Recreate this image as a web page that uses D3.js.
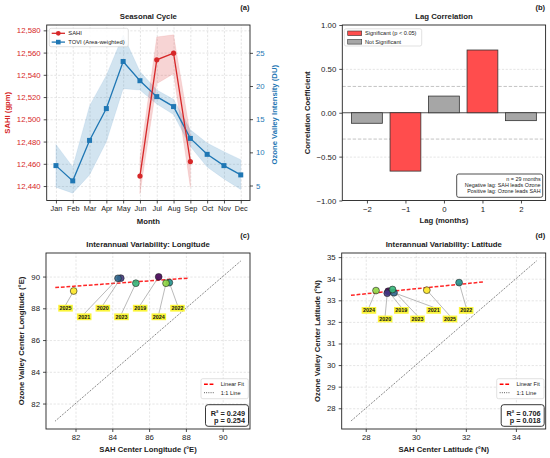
<!DOCTYPE html>
<html>
<head>
<meta charset="utf-8">
<script src="https://cdn.jsdelivr.net/npm/d3@7"></script>
<style>
body { margin: 0; background: #fff; }
svg { font-family: "Liberation Sans", Arial, sans-serif; }
</style>
</head>
<body>
<div id="chart"></div>
<script>
'use strict';

// ---- (a) seasonal cycle ----
const months = ["Jan","Feb","Mar","Apr","May","Jun","Jul","Aug","Sep","Oct","Nov","Dec"];
const sahiMonths = ["Jun","Jul","Aug","Sep"];
const sahiMean = [12449, 12553.5, 12559.5, 12462];
const sahiLow  = [12433, 12532, 12541, 12439];
const sahiHigh = [12465, 12574, 12576, 12486];
const toviMean = [8.0, 5.7, 11.8, 16.6, 23.7, 20.8, 18.4, 16.9, 12.1, 9.7, 8.0, 6.6];
const toviLow  = [4.75, 3.85, 6.6, 11.6, 19.6, 19.4, 17.3, 15.7, 10.9, 7.8, 6.0, 4.4];
const toviHigh = [11.2, 7.8, 17.0, 21.6, 27.7, 22.2, 19.4, 18.0, 13.4, 11.4, 10.1, 8.9];
const sahiTicks = [12440, 12460, 12480, 12500, 12520, 12540, 12560, 12580];
const toviTicks = [5, 10, 15, 20, 25];

// ---- (b) lag correlation ----
const lags = [-2, -1, 0, 1, 2];
const lagCorr = [-0.12, -0.665, 0.19, 0.715, -0.09];
const lagSignificant = [false, true, false, true, false];
const corrTicks = [-1, -0.5, 0, 0.5, 1];
const lagNote = ["n = 29 months", "Negative lag: SAH leads Ozone", "Positive lag: Ozone leads SAH"];

// ---- (c), (d) interannual ----
const years  = [2019, 2020, 2021, 2022, 2023, 2024, 2025];
const sahLon = [86.52, 84.46, 84.31, 87.1, 85.28, 86.92, 81.9];
const ovLon  = [89.98, 89.9, 89.89, 89.62, 89.58, 89.58, 89.09];
const sahLat = [28.9, 28.86, 29.13, 31.73, 29.07, 28.41, 30.44];
const ovLat  = [33.42, 33.33, 33.35, 33.82, 33.5, 33.45, 33.47];
const lonTicks = [82, 84, 86, 88, 90];
const latTicksX = [28, 30, 32, 34];
const latTicksY = [28, 29, 30, 31, 32, 33, 34, 35];
const lonStats = ["R\u00b2 = 0.249", "p = 0.254"];
const latStats = ["R\u00b2 = 0.706", "p = 0.018"];

const RED = "#d62728", BLUE = "#1f77b4", INK = "#222";

const svg = d3.select("#chart").append("svg")
	.attr("width", 550)
	.attr("height", 458);

// axes frames in px
const boxA = {x0: 46.7, x1: 250, y0: 25, y1: 200.5};
const boxB = {x0: 342.3, x1: 545.6, y0: 25, y1: 200.5};
const boxC = {x0: 46, x1: 250, y0: 253, y1: 429};
const boxD = {x0: 341.7, x1: 545.7, y0: 253, y1: 429};

function styleAxis(g, color, size) {
	g.select(".domain").remove();
	g.selectAll(".tick line").attr("stroke", INK).attr("stroke-width", 0.8);
	g.selectAll(".tick text")
		.attr("fill", color || INK)
		.style("font-size", (size || 7.8) + "px")
		.style("font-family", "'Liberation Sans', Arial, sans-serif");
}

function gridX(scale, vals, box) {
	const g = svg.append("g")
		.attr("transform", `translate(0,${box.y1})`)
		.call(d3.axisBottom(scale).tickValues(vals).tickSize(-(box.y1 - box.y0)).tickFormat(""));
	g.select(".domain").remove();
	g.selectAll("line").attr("stroke", "#d4d4d4").attr("stroke-width", 0.6).attr("stroke-dasharray", "2.2,1.6");
}

function gridY(scale, vals, box) {
	const g = svg.append("g")
		.attr("transform", `translate(${box.x0},0)`)
		.call(d3.axisLeft(scale).tickValues(vals).tickSize(-(box.x1 - box.x0)).tickFormat(""));
	g.select(".domain").remove();
	g.selectAll("line").attr("stroke", "#d4d4d4").attr("stroke-width", 0.6).attr("stroke-dasharray", "2.2,1.6");
}

function frame(box) {
	svg.append("rect")
		.attr("x", box.x0).attr("y", box.y0)
		.attr("width", box.x1 - box.x0).attr("height", box.y1 - box.y0)
		.attr("fill", "none").attr("stroke", INK).attr("stroke-width", 0.9);
}

function label(x, y, txt, opts) {
	opts = opts || {};
	const t = svg.append("text")
		.attr("x", x).attr("y", y)
		.attr("text-anchor", opts.anchor || "middle")
		.attr("dominant-baseline", "central")
		.attr("fill", opts.color || INK)
		.style("font-size", (opts.size || 7.7) + "px")
		.style("font-weight", opts.bold === false ? "normal" : "bold")
		.text(txt);
	if (opts.rotate) t.attr("transform", `rotate(-90,${x},${y})`);
	return t;
}

function titles(box, title, letter, xlab, ylab, ylabX, xlabY) {
	const cx = (box.x0 + box.x1) / 2;
	label(cx, box.y0 - 8.5, title, {size: 7.8});
	label(box.x1 - 0.5, box.y0 - 17.5, letter, {anchor: "end", size: 7.6});
	label(cx, xlabY, xlab);
	label(ylabX, (box.y0 + box.y1) / 2, ylab, {rotate: true});
}

// ================= (a) =================
{
	const box = boxA;
	const x = d3.scaleLinear().domain([-0.55, 11.55]).range([box.x0, box.x1]);
	const yL = d3.scaleLinear().domain([12427, 12584.8]).range([box.y1, box.y0]);
	const yR = d3.scaleLinear().domain([2.74, 29.2]).range([box.y1, box.y0]);
	const mi = m => months.indexOf(m);

	gridX(x, d3.range(12), box);
	gridY(yL, sahiTicks, box);

	const tovi = months.map((m, i) => ({m, v: toviMean[i], lo: toviLow[i], hi: toviHigh[i]}));
	const sahi = sahiMonths.map((m, i) => ({m, v: sahiMean[i], lo: sahiLow[i], hi: sahiHigh[i]}));

	// bands
	svg.append("path")
		.datum(tovi)
		.attr("d", d3.area().x(d => x(mi(d.m))).y0(d => yR(d.lo)).y1(d => yR(d.hi)))
		.attr("fill", BLUE).attr("fill-opacity", 0.2)
		.attr("stroke", BLUE).attr("stroke-opacity", 0.15).attr("stroke-width", 0.6);
	svg.append("path")
		.datum(sahi)
		.attr("d", d3.area().x(d => x(mi(d.m))).y0(d => yL(d.lo)).y1(d => yL(d.hi)))
		.attr("fill", RED).attr("fill-opacity", 0.2)
		.attr("stroke", RED).attr("stroke-opacity", 0.15).attr("stroke-width", 0.6);

	// tovi line + squares
	svg.append("path")
		.datum(tovi)
		.attr("d", d3.line().x(d => x(mi(d.m))).y(d => yR(d.v)))
		.attr("fill", "none").attr("stroke", BLUE).attr("stroke-width", 1.3);
	svg.append("g").selectAll("rect")
		.data(tovi).join("rect")
		.attr("x", d => x(mi(d.m)) - 2.5).attr("y", d => yR(d.v) - 2.5)
		.attr("width", 5).attr("height", 5)
		.attr("fill", BLUE);

	// sahi line + circles
	svg.append("path")
		.datum(sahi)
		.attr("d", d3.line().x(d => x(mi(d.m))).y(d => yL(d.v)))
		.attr("fill", "none").attr("stroke", RED).attr("stroke-width", 1.3);
	svg.append("g").selectAll("circle")
		.data(sahi).join("circle")
		.attr("cx", d => x(mi(d.m))).attr("cy", d => yL(d.v))
		.attr("r", 2.6)
		.attr("fill", RED);

	frame(box);

	const ax = svg.append("g")
		.attr("transform", `translate(0,${box.y1})`)
		.call(d3.axisBottom(x).tickValues(d3.range(12)).tickFormat(i => months[i]).tickSize(3).tickPadding(2.5));
	styleAxis(ax, INK, 7.3);
	const al = svg.append("g")
		.attr("transform", `translate(${box.x0},0)`)
		.call(d3.axisLeft(yL).tickValues(sahiTicks).tickFormat(d3.format(",")).tickSize(3).tickPadding(3));
	styleAxis(al, RED, 7.8);
	const ar = svg.append("g")
		.attr("transform", `translate(${box.x1},0)`)
		.call(d3.axisRight(yR).tickValues(toviTicks).tickSize(3).tickPadding(3));
	styleAxis(ar, BLUE, 7.8);

	titles(box, "Seasonal Cycle", "(a)", "Month", "SAHI (gpm)", 7.3, 221.7);
	svg.select("text:last-of-type");
	label(274, (box.y0 + box.y1) / 2 + 2, "Ozone Valley Intensity (DU)", {rotate: true, color: BLUE});
	// recolor left label
	svg.selectAll("text").filter(function() { return this.textContent === "SAHI (gpm)"; }).attr("fill", RED);

	// legend
	const lg = svg.append("g");
	lg.append("rect")
		.attr("x", 49.3).attr("y", 28.3).attr("width", 79).attr("height", 18.4)
		.attr("rx", 1.8)
		.attr("fill", "#fff").attr("fill-opacity", 0.85)
		.attr("stroke", "#ccc").attr("stroke-width", 0.6);
	const rows = [{t: "SAHI", c: RED, y: 33.3, shape: "circle"}, {t: "TOVI (Area-weighted)", c: BLUE, y: 42.1, shape: "square"}];
	rows.forEach(r => {
		lg.append("line").attr("x1", 51.7).attr("x2", 65).attr("y1", r.y).attr("y2", r.y)
			.attr("stroke", r.c).attr("stroke-width", 1.3);
		if (r.shape === "circle")
			lg.append("circle").attr("cx", 58.3).attr("cy", r.y).attr("r", 2.4).attr("fill", r.c);
		else
			lg.append("rect").attr("x", 56).attr("y", r.y - 2.3).attr("width", 4.6).attr("height", 4.6).attr("fill", r.c);
		lg.append("text").attr("x", 68.3).attr("y", r.y).attr("dominant-baseline", "central")
			.style("font-size", "5.8px").attr("fill", INK).text(r.t);
	});
}

// ================= (b) =================
{
	const box = boxB;
	const x = d3.scaleLinear().domain([-2.64, 2.64]).range([box.x0, box.x1]);
	const y = d3.scaleLinear().domain([-1, 1]).range([box.y1, box.y0]);

	gridY(y, [-0.5, 0.5], box);

	// threshold lines
	svg.append("g").selectAll("line")
		.data([0.3, -0.3]).join("line")
		.attr("x1", box.x0).attr("x2", box.x1)
		.attr("y1", d => y(d)).attr("y2", d => y(d))
		.attr("stroke", "#a8a8a8").attr("stroke-width", 0.7).attr("stroke-dasharray", "3.4,1.8");

	svg.append("line")
		.attr("x1", box.x0).attr("x2", box.x1)
		.attr("y1", y(0)).attr("y2", y(0))
		.attr("stroke", INK).attr("stroke-width", 0.8);

	const bars = lags.map((l, i) => ({l, v: lagCorr[i], sig: lagSignificant[i]}));
	svg.append("g").selectAll("rect")
		.data(bars).join("rect")
		.attr("x", d => x(d.l - 0.4))
		.attr("width", d => x(d.l + 0.4) - x(d.l - 0.4))
		.attr("y", d => y(Math.max(0, d.v)))
		.attr("height", d => Math.abs(y(d.v) - y(0)))
		.attr("fill", d => d.sig ? "#ff4d4d" : "#a6a6a6")
		.attr("stroke", "#333").attr("stroke-width", 0.8);

	frame(box);

	const ax = svg.append("g")
		.attr("transform", `translate(0,${box.y1})`)
		.call(d3.axisBottom(x).tickValues(lags).tickFormat(d3.format("d")).tickSize(3).tickPadding(2.5));
	styleAxis(ax);
	const ay = svg.append("g")
		.attr("transform", `translate(${box.x0},0)`)
		.call(d3.axisLeft(y).tickValues(corrTicks).tickFormat(d3.format(".2f")).tickSize(3).tickPadding(3));
	styleAxis(ay);

	titles(box, "Lag Correlation", "(b)", "Lag (months)", "Correlation Coefficient", 307.3, 220.7);

	// legend
	const lg = svg.append("g");
	lg.append("rect")
		.attr("x", 344.3).attr("y", 28.8).attr("width", 77.4).attr("height", 17.2)
		.attr("rx", 1.8)
		.attr("fill", "#fff").attr("fill-opacity", 0.85)
		.attr("stroke", "#ccc").attr("stroke-width", 0.6);
	[{t: "Significant (p < 0.05)", c: "#ff4d4d", y: 33.3}, {t: "Not Significant", c: "#a6a6a6", y: 41.8}].forEach(r => {
		lg.append("rect").attr("x", 347.7).attr("y", r.y - 2.3).attr("width", 14).attr("height", 4.6)
			.attr("fill", r.c).attr("stroke", "#333").attr("stroke-width", 0.6);
		lg.append("text").attr("x", 365).attr("y", r.y).attr("dominant-baseline", "central")
			.style("font-size", "5.6px").attr("fill", INK).text(r.t);
	});

	// note box
	svg.append("rect")
		.attr("x", 456.7).attr("y", 174).attr("width", 86).attr("height", 23.3)
		.attr("rx", 2)
		.attr("fill", "#fff").attr("stroke", INK).attr("stroke-width", 0.8);
	svg.append("g").selectAll("text")
		.data(lagNote).join("text")
		.attr("x", 540.6).attr("y", (d, i) => 178.5 + i * 6.2)
		.attr("text-anchor", "end").attr("dominant-baseline", "central")
		.style("font-size", "5.4px").attr("fill", INK)
		.text(d => d);
}

// ================= (c), (d) =================
const yearColor = d3.scaleSequential(d3.interpolateViridis).domain([2019, 2025]);

function scatterPanel(box, xs, ys, xt, yt, stats, title, letter, xlab, ylab, ylabX) {
	const all = xs.concat(ys);
	const lo = d3.min(all) - 1, hi = d3.max(all) + 1;
	const pad = 0.05 * (hi - lo);
	const x = d3.scaleLinear().domain([lo - pad, hi + pad]).range([box.x0, box.x1]);
	const y = d3.scaleLinear().domain([lo - pad, hi + pad]).range([box.y1, box.y0]);

	gridX(x, xt, box);
	gridY(y, yt, box);

	// 1:1 line
	svg.append("line")
		.attr("x1", x(lo)).attr("y1", y(lo)).attr("x2", x(hi)).attr("y2", y(hi))
		.attr("stroke", INK).attr("stroke-width", 0.8).attr("stroke-dasharray", "0.9,1.3");

	// least squares fit
	const mx = d3.mean(xs), my = d3.mean(ys);
	const sxy = d3.sum(xs, (v, i) => (v - mx) * (ys[i] - my));
	const sxx = d3.sum(xs, v => (v - mx) * (v - mx));
	const slope = sxy / sxx, icpt = my - slope * mx;
	const fx = [d3.min(xs) - 1, d3.max(xs) + 1];
	svg.append("line")
		.attr("x1", x(fx[0])).attr("y1", y(icpt + slope * fx[0]))
		.attr("x2", x(fx[1])).attr("y2", y(icpt + slope * fx[1]))
		.attr("stroke", "#ff0000").attr("stroke-opacity", 0.85)
		.attr("stroke-width", 1.5).attr("stroke-dasharray", "3.8,1.8");

	// label placement: spread along x in sorted order, alternating rows
	const pts = years.map((yr, i) => ({yr, x: xs[i], y: ys[i]}));
	const order = pts.slice().sort((a, b) => a.x - b.x);
	const span = d3.max(xs) - d3.min(xs);
	const lx = d3.scaleLinear().domain([0, order.length - 1])
		.range([x(d3.min(xs) - 0.085 * span), x(d3.max(xs) + 0.085 * span)]);
	const base = y(d3.min(ys));
	order.forEach((p, k) => { p.lx = lx(k); p.ly = base + (k % 2 ? 25.8 : 17.2); });

	svg.append("g").selectAll("line")
		.data(pts).join("line")
		.attr("x1", d => d.lx).attr("y1", d => d.ly - 3)
		.attr("x2", d => x(d.x)).attr("y2", d => y(d.y))
		.attr("stroke", "#8c8c8c").attr("stroke-width", 0.6);

	svg.append("g").selectAll("circle")
		.data(pts).join("circle")
		.attr("cx", d => x(d.x)).attr("cy", d => y(d.y))
		.attr("r", 3.4)
		.attr("fill", d => yearColor(d.yr)).attr("fill-opacity", 0.9)
		.attr("stroke", "#222").attr("stroke-width", 0.6);

	const lab = svg.append("g").selectAll("g")
		.data(pts).join("g")
		.attr("transform", d => `translate(${d.lx},${d.ly})`);
	lab.append("rect")
		.attr("x", -7.3).attr("y", -3.4).attr("width", 14.6).attr("height", 6.8)
		.attr("fill", "#fbf53a");
	lab.append("text")
		.attr("text-anchor", "middle").attr("dominant-baseline", "central")
		.style("font-size", "5.4px").style("font-weight", "bold").attr("fill", "#111")
		.text(d => d.yr);

	frame(box);

	const ax = svg.append("g")
		.attr("transform", `translate(0,${box.y1})`)
		.call(d3.axisBottom(x).tickValues(xt).tickFormat(d3.format("d")).tickSize(3).tickPadding(2.5));
	styleAxis(ax);
	const ay = svg.append("g")
		.attr("transform", `translate(${box.x0},0)`)
		.call(d3.axisLeft(y).tickValues(yt).tickFormat(d3.format("d")).tickSize(3).tickPadding(3));
	styleAxis(ay);

	titles(box, title, letter, xlab, ylab, ylabX, 449.3);

	// legend
	const lgx = box.x1 - 49, lgy = box.y1 - 50.3;
	const lg = svg.append("g");
	lg.append("rect")
		.attr("x", lgx).attr("y", lgy).attr("width", 47.3).attr("height", 20)
		.attr("rx", 1.8)
		.attr("fill", "#fff").attr("fill-opacity", 0.85)
		.attr("stroke", "#ccc").attr("stroke-width", 0.6);
	[{t: "Linear Fit", c: "#ff0000", dash: "3.8,1.8", w: 1.5, dy: 5.6},
	 {t: "1:1 Line", c: INK, dash: "0.9,1.3", w: 0.8, dy: 14}].forEach(r => {
		lg.append("line").attr("x1", lgx + 3).attr("x2", lgx + 13.5)
			.attr("y1", lgy + r.dy).attr("y2", lgy + r.dy)
			.attr("stroke", r.c).attr("stroke-width", r.w).attr("stroke-dasharray", r.dash);
		lg.append("text").attr("x", lgx + 19.7).attr("y", lgy + r.dy).attr("dominant-baseline", "central")
			.style("font-size", "5.6px").attr("fill", INK).text(r.t);
	});

	// stats box
	svg.append("rect")
		.attr("x", box.x1 - 44.5).attr("y", box.y1 - 24.3).attr("width", 43).attr("height", 21.6)
		.attr("rx", 2.6)
		.attr("fill", "#fff").attr("stroke", INK).attr("stroke-width", 0.9);
	svg.append("g").selectAll("text")
		.data(stats).join("text")
		.attr("x", box.x1 - 5).attr("y", (d, i) => box.y1 - 16 + i * 7.6)
		.attr("text-anchor", "end").attr("dominant-baseline", "central")
		.style("font-size", "7.3px").style("font-weight", "bold").attr("fill", INK)
		.text(d => d);
}

scatterPanel(boxC, sahLon, ovLon, lonTicks, [82, 84, 86, 88, 90], lonStats,
	"Interannual Variability: Longitude", "(c)", "SAH Center Longitude (\u00b0E)",
	"Ozone Valley Center Longitude (\u00b0E)", 21.7);
scatterPanel(boxD, sahLat, ovLat, latTicksX, latTicksY, latStats,
	"Interannual Variability: Latitude", "(d)", "SAH Center Latitude (\u00b0N)",
	"Ozone Valley Center Latitude (\u00b0N)", 317.7);
</script>
</body>
</html>
